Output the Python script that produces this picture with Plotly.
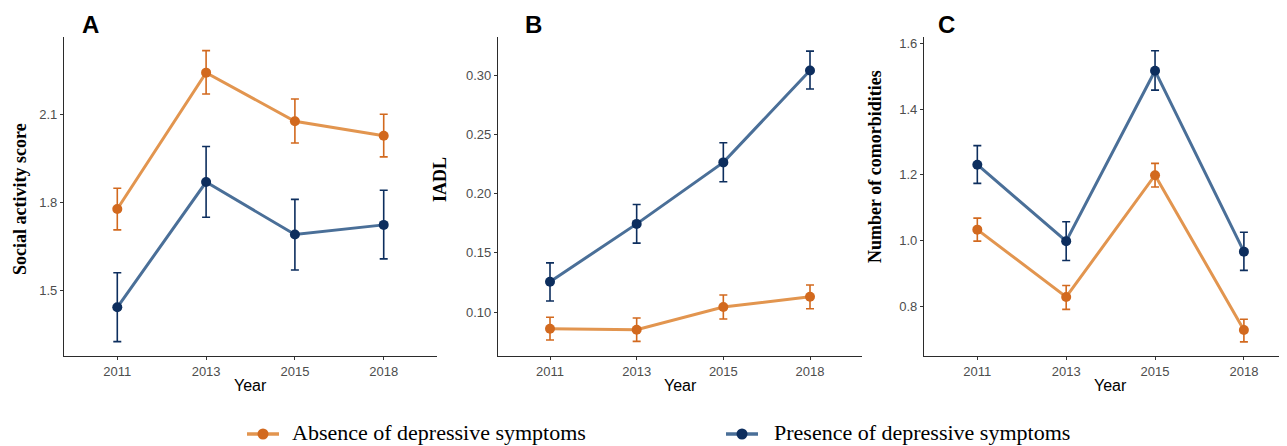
import plotly.graph_objects as go

years = ["2011", "2013", "2015", "2018"]

# Panel A: Social activity score
a_abs = [1.776, 2.241, 2.075, 2.026]
a_abs_hi = [1.847, 2.316, 2.151, 2.099]
a_abs_lo = [1.705, 2.168, 2.001, 1.954]
a_pre = [1.441, 1.868, 1.689, 1.722]
a_pre_hi = [1.559, 1.989, 1.809, 1.840]
a_pre_lo = [1.324, 1.748, 1.568, 1.606]

# Panel B: IADL
b_abs = [0.0859, 0.0850, 0.1042, 0.1129]
b_abs_hi = [0.0955, 0.0949, 0.1144, 0.1228]
b_abs_lo = [0.0763, 0.0752, 0.0941, 0.1028]
b_pre = [0.1256, 0.1745, 0.2265, 0.3042]
b_pre_hi = [0.1415, 0.1909, 0.2431, 0.3206]
b_pre_lo = [0.1093, 0.1582, 0.2101, 0.2885]

# Panel C: Number of comorbidities
c_abs = [1.033, 0.828, 1.199, 0.727]
c_abs_hi = [1.068, 0.863, 1.235, 0.760]
c_abs_lo = [0.998, 0.790, 1.163, 0.691]
c_pre = [1.231, 0.998, 1.517, 0.966]
c_pre_hi = [1.289, 1.057, 1.578, 1.025]
c_pre_lo = [1.174, 0.939, 1.458, 0.909]

series_names = ["Absence of depressive symptoms", "Presence of depressive symptoms"]
y_titles = ["Social activity score", "IADL", "Number of comorbidities"]
panel_letters = ["A", "B", "C"]
y_ticks = [[1.5, 1.8, 2.1], [0.10, 0.15, 0.20, 0.25, 0.30], [0.8, 1.0, 1.2, 1.4, 1.6]]
y_ticktext = [["1.5", "1.8", "2.1"], ["0.10", "0.15", "0.20", "0.25", "0.30"],
              ["0.8", "1.0", "1.2", "1.4", "1.6"]]
y_ranges = [[1.275, 2.3625], [0.0628, 0.3325], [0.648, 1.620]]
x_ranges = [[-0.6, 3.6], [-0.6, 3.6], [-0.6, 3.44]]

ORANGE_LINE = "#E2954F"
ORANGE_MARK = "#D2691E"
BLUE_LINE = "#4A6F98"
BLUE_MARK = "#0D2E5E"

# page body has an 8px margin; figure sized so it ends at the window edge
OFF = 8
W, H = 1287 - OFF, 446 - OFF


def fx(sx):
    return (sx - OFF) / W


def fy(sy):
    return 1 - (sy - OFF) / H


px_x = [[64, 437], [498, 862], [924, 1283]]
y_dom = [fy(356), fy(37)]

fig = go.Figure()

panels = [
    (a_abs, a_abs_hi, a_abs_lo, a_pre, a_pre_hi, a_pre_lo),
    (b_abs, b_abs_hi, b_abs_lo, b_pre, b_pre_hi, b_pre_lo),
    (c_abs, c_abs_hi, c_abs_lo, c_pre, c_pre_hi, c_pre_lo),
]

for i, (ab, abh, abl, pr, prh, prl) in enumerate(panels):
    xa = "x" if i == 0 else f"x{i+1}"
    ya = "y" if i == 0 else f"y{i+1}"
    for (vals, hi, lo, lc, mc, name) in [
        (ab, abh, abl, ORANGE_LINE, ORANGE_MARK, series_names[0]),
        (pr, prh, prl, BLUE_LINE, BLUE_MARK, series_names[1]),
    ]:
        fig.add_trace(go.Scatter(
            x=years, y=vals, mode="lines+markers", name=name,
            showlegend=False,
            line=dict(color=lc, width=3),
            marker=dict(color=mc, size=10),
            error_y=dict(type="data", symmetric=False,
                         array=[h - v for h, v in zip(hi, vals)],
                         arrayminus=[v - l for v, l in zip(vals, lo)],
                         color=mc, thickness=1.6, width=4),
            xaxis=xa, yaxis=ya,
        ))

layout = dict(
    width=W, height=H,
    margin=dict(l=0, r=0, t=0, b=0),
    paper_bgcolor="white", plot_bgcolor="white",
    showlegend=False,
)

annotations = []
shapes = []
for i in range(3):
    xk = "xaxis" if i == 0 else f"xaxis{i+1}"
    yk = "yaxis" if i == 0 else f"yaxis{i+1}"
    layout[xk] = dict(
        domain=[fx(px_x[i][0]), min(1.0, fx(px_x[i][1]))], type="category",
        range=x_ranges[i], showline=True, linecolor="#2b2b2b", linewidth=1.2,
        ticks="outside", ticklen=3, tickcolor="#333333", showgrid=False, zeroline=False,
        tickfont=dict(family="Liberation Sans", size=13, color="#4d4d4d"),
        anchor="y" if i == 0 else f"y{i+1}",
    )
    layout[yk] = dict(
        domain=y_dom, range=y_ranges[i], showline=True, linecolor="#2b2b2b", linewidth=1.2,
        ticks="outside", ticklen=3, tickcolor="#333333", showgrid=False, zeroline=False,
        tickvals=y_ticks[i], ticktext=y_ticktext[i],
        tickfont=dict(family="Liberation Sans", size=13, color="#4d4d4d"),
        anchor="x" if i == 0 else f"x{i+1}",
    )

year_x = [250, 680, 1110]
ytitle_pos = [(20, 199), (440, 180), (875, 167)]
letter_pos = [(90, 24), (533, 24), (946, 24)]
for i in range(3):
    annotations.append(dict(
        text="Year", x=fx(year_x[i]), y=fy(385), xref="paper", yref="paper",
        xanchor="center", yanchor="middle", showarrow=False,
        font=dict(family="Liberation Sans", size=16, color="black")))
    annotations.append(dict(
        text=y_titles[i], x=fx(ytitle_pos[i][0]), y=fy(ytitle_pos[i][1]),
        xref="paper", yref="paper", xanchor="center", yanchor="middle",
        showarrow=False, textangle=-90,
        font=dict(family="Liberation Serif", size=18, color="black", weight="bold")))
    annotations.append(dict(
        text=f"<b>{panel_letters[i]}</b>", x=fx(letter_pos[i][0]), y=fy(letter_pos[i][1]),
        xref="paper", yref="paper", xanchor="center", yanchor="middle", showarrow=False,
        font=dict(family="Liberation Sans", size=24, color="black")))

# manual legend
leg_sym = [(247, 279), (726, 758)]
leg_text_x = [290, 772]
leg_y = 432
leg_cols = [(ORANGE_LINE, ORANGE_MARK), (BLUE_LINE, BLUE_MARK)]
for k in range(2):
    x0, x1 = leg_sym[k]
    lc, mc = leg_cols[k]
    shapes.append(dict(type="line", xref="paper", yref="paper",
                       x0=fx(x0), x1=fx(x1), y0=fy(leg_y + 2), y1=fy(leg_y + 2),
                       line=dict(color=lc, width=3.5)))
    cx = (x0 + x1) / 2
    shapes.append(dict(type="circle", xref="paper", yref="paper",
                       x0=fx(cx - 5.5), x1=fx(cx + 5.5),
                       y0=fy(leg_y + 2 + 5.5), y1=fy(leg_y + 2 - 5.5),
                       fillcolor=mc, line=dict(color=mc, width=0)))
    annotations.append(dict(
        text=series_names[k], x=fx(leg_text_x[k]), y=fy(leg_y),
        xref="paper", yref="paper", xanchor="left", yanchor="middle", showarrow=False,
        font=dict(family="Liberation Serif", size=22, color="black")))

layout["annotations"] = annotations
layout["shapes"] = shapes
fig.update_layout(**layout)
fig.write_html("out.html")
